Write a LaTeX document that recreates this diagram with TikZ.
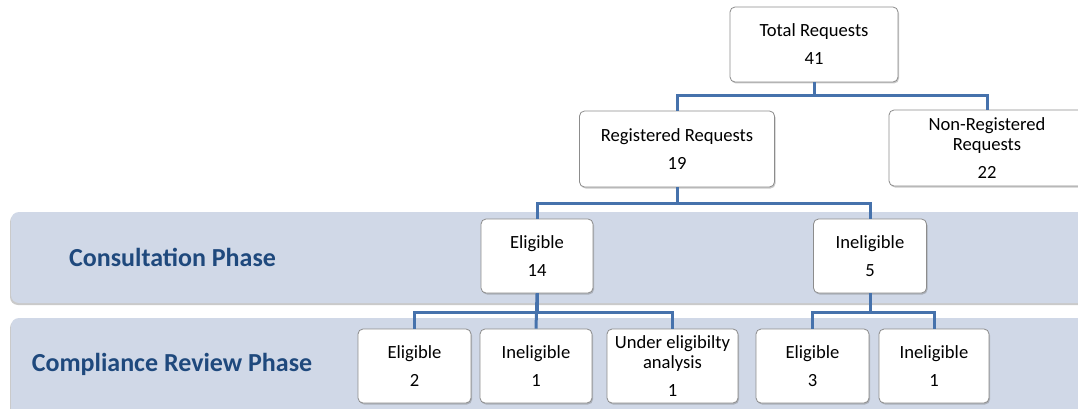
\documentclass[tikz,border=0pt]{standalone}
\usepackage{fontspec}
\setmainfont{Carlito}
\usetikzlibrary{shadows}
\definecolor{bandfill}{RGB}{208,216,231}
\definecolor{phasetext}{RGB}{31,73,125}
\definecolor{connblue}{RGB}{70,114,172}
\definecolor{boxline}{RGB}{140,140,140}
\tikzset{
  box/.style={draw=boxline, line width=0.8pt, fill=white, rounded corners=5pt,
    align=center, inner sep=0pt, font=\fontsize{18.6}{20}\selectfont,
    drop shadow={shadow xshift=1pt, shadow yshift=-1.5pt, opacity=0.35, fill=black!60}},
  band/.style={fill=bandfill, rounded corners=8pt,
    drop shadow={shadow xshift=-1pt, shadow yshift=-2pt, opacity=0.35, fill=black!60}},
  phase/.style={text=phasetext, font=\bfseries\fontsize{26}{30}\selectfont},
  conn/.style={draw=connblue, line width=3pt},
}
\begin{document}
\begin{tikzpicture}[x=1pt,y=-1pt]
\useasboundingbox (0,0) rectangle (1078,409);
% bands
\path[band] (1100,212) -- (11,212) -- (11,303) -- (1100,303) -- cycle;
\path[band] (1100,318) -- (11,318) -- (11,420) -- (1100,420) -- cycle;
\node[phase] (cp) at (172.5,257) {Consultation Phase};
\node[phase] (crp) at (172,364) {Compliance Review Phase};
% bar coordinates
\coordinate (bar1) at (0,96);
\coordinate (bar2) at (0,203);
\coordinate (bar3) at (0,312);
\node[box, minimum width=168pt, minimum height=75pt] (total) at (814,44.5) {Total Requests\\[8pt]41};
\node[box, minimum width=195pt, minimum height=76pt] (reg) at (677,149) {Registered Requests\\[8pt]19};
\node[box, minimum width=196pt, minimum height=76pt] (nonreg) at (987,148) {Non-Registered\\Requests\\[8pt]22};
\node[box, minimum width=112pt, minimum height=74pt] (el) at (537,256) {Eligible\\[8pt]14};
\node[box, minimum width=113pt, minimum height=74pt] (inel) at (870,256) {Ineligible\\[8pt]5};
\node[box, minimum width=113pt, minimum height=74pt] (el2) at (414.5,366) {Eligible\\[8pt]2};
\node[box, minimum width=112pt, minimum height=74pt] (in1) at (536,366) {Ineligible\\[8pt]1};
\node[box, minimum width=131pt, minimum height=74pt] (un1) at (672.5,366) {Under eligibilty\\analysis\\[8pt]1};
\node[box, minimum width=113pt, minimum height=74pt] (el3) at (812.5,366) {Eligible\\[8pt]3};
\node[box, minimum width=110pt, minimum height=74pt] (in1b) at (934,366) {Ineligible\\[8pt]1};
% connectors
\draw[conn] (total.south) |- (reg.north |- bar1) -- (reg.north);
\draw[conn] (total.south) |- (nonreg.north |- bar1) -- (nonreg.north);
\draw[conn] (reg.south) |- (el.north |- bar2) -- (el.north);
\draw[conn] (reg.south) |- (inel.north |- bar2) -- (inel.north);
\draw[conn] (el.south) |- (el2.north |- bar3) -- (el2.north);
\draw[conn] (el.south) -- (in1.north);
\draw[conn] (el.south) |- (un1.north |- bar3) -- (un1.north);
\draw[conn] (inel.south) |- (el3.north |- bar3) -- (el3.north);
\draw[conn] (inel.south) |- (in1b.north |- bar3) -- (in1b.north);
\end{tikzpicture}
\end{document}
